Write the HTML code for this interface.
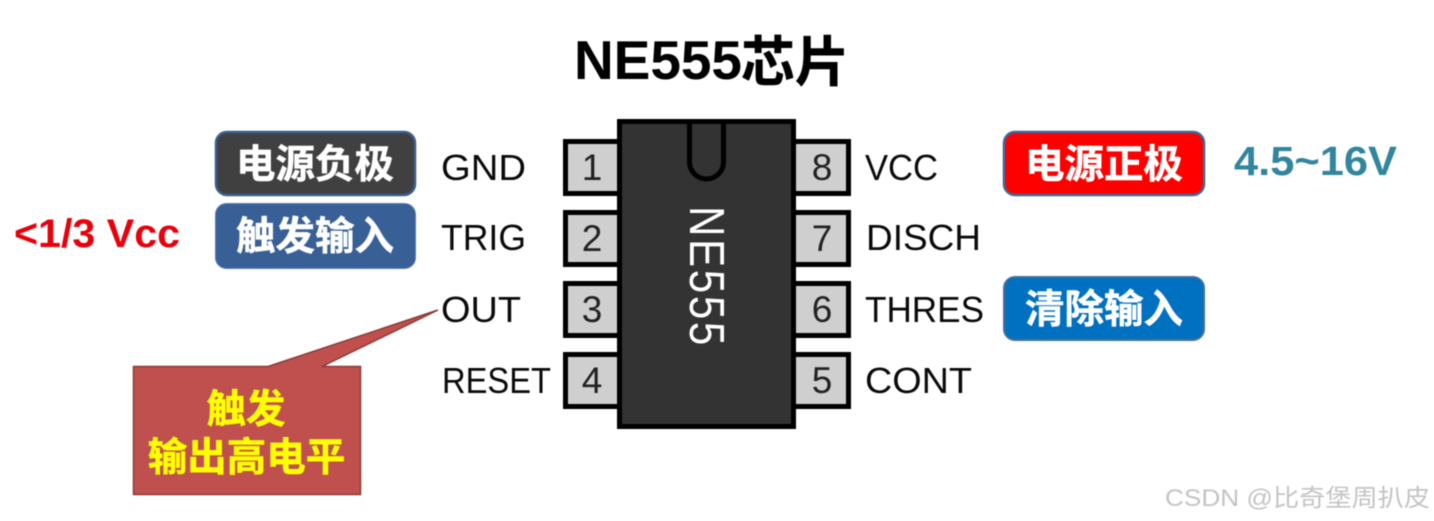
<!DOCTYPE html>
<html lang="zh">
<head>
<meta charset="utf-8">
<title>NE555芯片</title>
<style>
html,body{margin:0;padding:0;background:#fff;width:1434px;height:521px;overflow:hidden}
svg{display:block;filter:blur(.45px)}
text{font-family:"Liberation Sans","Noto Sans CJK SC",sans-serif}
.cjk{font-family:"Noto Sans CJK SC","Liberation Sans",sans-serif;font-weight:700}
.lab{font-size:36px;fill:#0a0a0a}
.num{font-size:37px;fill:#222;text-anchor:middle}
.pin{fill:#cfcfcf;stroke:#000;stroke-width:5}
.btn{font-size:39.500px;fill:#fff;text-anchor:middle;stroke:#fff;stroke-width:.5px}
</style>
</head>
<body>
<svg width="1434" height="521" viewBox="0 0 1434 521" xmlns="http://www.w3.org/2000/svg">
<rect width="1434" height="521" fill="#fff"/>

<text x="574" y="79" font-size="55" font-weight="700" fill="#000" textLength="168" lengthAdjust="spacing">NE555</text>
<text class="cjk" x="741" y="81" font-size="54" fill="#000" stroke="#000" stroke-width=".5">芯片</text>

<!-- pins -->
<rect class="pin" x="565.500" y="141.500" width="60" height="52"/>
<rect class="pin" x="565.500" y="212.500" width="60" height="52"/>
<rect class="pin" x="565.500" y="283.500" width="60" height="52"/>
<rect class="pin" x="565.500" y="354.500" width="60" height="52"/>
<rect class="pin" x="788.500" y="141.500" width="60" height="52"/>
<rect class="pin" x="788.500" y="212.500" width="60" height="52"/>
<rect class="pin" x="788.500" y="283.500" width="60" height="52"/>
<rect class="pin" x="788.500" y="354.500" width="60" height="52"/>

<!-- chip body -->
<rect x="619.500" y="121.500" width="174" height="305" fill="#333" stroke="#000" stroke-width="5"/>
<path d="M689.500 122 V162 A17 17 0 0 0 723.500 162 V122" fill="none" stroke="#000" stroke-width="5"/>
<text x="0" y="0" font-size="49" fill="#fff" transform="translate(690,206) rotate(90) scale(.86,1)" textLength="162" lengthAdjust="spacing">NE555</text>

<!-- pin numbers -->
<text class="num" x="592" y="180">1</text>
<text class="num" x="592" y="251">2</text>
<text class="num" x="592" y="322">3</text>
<text class="num" x="592" y="393">4</text>
<text class="num" x="822" y="180">8</text>
<text class="num" x="822" y="251">7</text>
<text class="num" x="822" y="322">6</text>
<text class="num" x="822" y="393">5</text>

<!-- pin labels -->
<text class="lab" x="441" y="180" textLength="85" lengthAdjust="spacingAndGlyphs">GND</text>
<text class="lab" x="441" y="250" textLength="85" lengthAdjust="spacingAndGlyphs">TRIG</text>
<text class="lab" x="441" y="322" textLength="80" lengthAdjust="spacingAndGlyphs">OUT</text>
<text class="lab" x="442" y="393" textLength="109" lengthAdjust="spacingAndGlyphs">RESET</text>
<text class="lab" x="865" y="180" textLength="73" lengthAdjust="spacingAndGlyphs">VCC</text>
<text class="lab" x="866" y="250" textLength="115" lengthAdjust="spacingAndGlyphs">DISCH</text>
<text class="lab" x="865" y="322" textLength="119" lengthAdjust="spacingAndGlyphs">THRES</text>
<text class="lab" x="865" y="393" textLength="107" lengthAdjust="spacingAndGlyphs">CONT</text>

<!-- left buttons -->
<rect x="216" y="132" width="199" height="63" rx="11" fill="#404040" stroke="#3a5f8f" stroke-width="2.500"/>
<text class="cjk btn" x="315" y="178">电源负极</text>
<rect x="215.500" y="203.500" width="200" height="65" rx="11" fill="#386096" stroke="#5b7fae" stroke-width="1"/>
<text class="cjk btn" x="315" y="250">触发输入</text>
<text x="14" y="247" font-size="40" font-weight="700" fill="#e8000b" textLength="166" lengthAdjust="spacingAndGlyphs">&lt;1/3 Vcc</text>

<!-- right buttons -->
<rect x="1004" y="132" width="200" height="63" rx="11" fill="#fe0000" stroke="#3f6797" stroke-width="2.500"/>
<text class="cjk btn" x="1104" y="178">电源正极</text>
<rect x="1004" y="277" width="200" height="63" rx="11" fill="#0070c0" stroke="#44709f" stroke-width="2"/>
<text class="cjk btn" x="1104" y="323">清除输入</text>
<text x="1234" y="175" font-size="41" font-weight="700" fill="#31859c" textLength="163" lengthAdjust="spacingAndGlyphs">4.5~16V</text>

<!-- callout -->
<path d="M133.500 366.500 H268 L438 310 L322 366.500 H360.500 V494.500 H133.500 Z" fill="#c0504d" stroke="#8c3a38" stroke-width="1.500"/>
<text class="cjk" x="246" y="423" font-size="39.500" fill="#ffff00" stroke="#ffff00" stroke-width=".5" text-anchor="middle">触发</text>
<text class="cjk" x="246.500" y="471" font-size="39.500" fill="#ffff00" stroke="#ffff00" stroke-width=".5" text-anchor="middle">输出高电平</text>

<!-- watermark -->
<text x="1165" y="506" font-size="24" fill="#c4c4c4" style="font-family:'Liberation Sans','WenQuanYi Zen Hei','Noto Sans CJK SC',sans-serif" textLength="265" lengthAdjust="spacingAndGlyphs">CSDN @比奇堡周扒皮</text>
</svg>
</body>
</html>
